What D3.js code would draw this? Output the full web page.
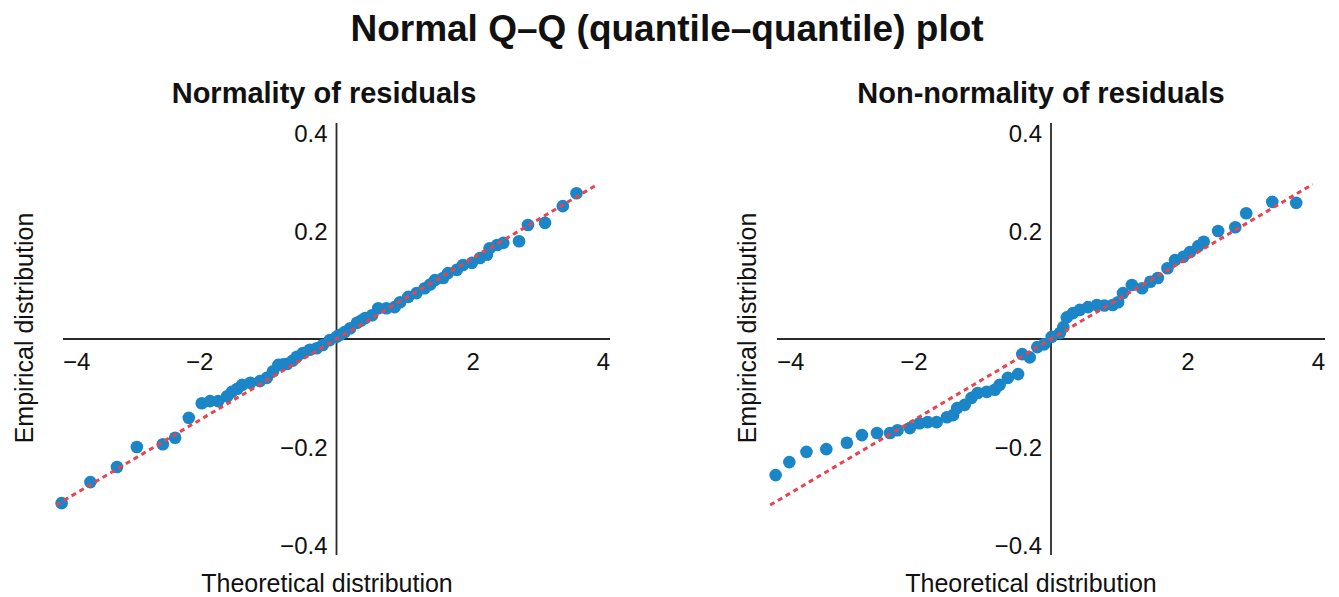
<!DOCTYPE html>
<html>
<head>
<meta charset="utf-8">
<script src="https://cdn.jsdelivr.net/npm/d3@7"></script>
<style>
  body { margin: 0; background: #fff; }
  text { font-family: "Liberation Sans", Arial, sans-serif; fill: #111; }
</style>
</head>
<body>
<div id="chart"></div>
<script>
const width = 1339,
    height = 597;

// tick labels (0 is not labelled)
const xTicks = [-4, -2, 2, 4];
const yTicks = [-0.4, -0.2, 0.2, 0.4];

// left panel: residuals that follow the normal line
const normTheo = [-4.02, -3.60, -3.21, -2.92, -2.54, -2.36, -2.16, -1.97, -1.85, -1.73,
    -1.60, -1.53, -1.45, -1.38, -1.26, -1.12, -1.02, -0.93, -0.85, -0.78, -0.72,
    -0.64, -0.58, -0.49, -0.39, -0.29, -0.20, -0.10, 0.00, 0.05, 0.12,
    0.20, 0.30, 0.36, 0.42, 0.52, 0.61, 0.73, 0.85, 0.93, 1.05, 1.17,
    1.29, 1.37, 1.44, 1.56, 1.63, 1.76, 1.85, 1.98, 2.10, 2.20,
    2.24, 2.35, 2.44, 2.67, 2.80, 3.05, 3.31, 3.51];
const normResid = [-0.304, -0.265, -0.237, -0.200, -0.195, -0.183, -0.146, -0.119, -0.115, -0.115,
    -0.106, -0.098, -0.092, -0.085, -0.081, -0.078, -0.072, -0.060, -0.048, -0.047, -0.046,
    -0.040, -0.033, -0.026, -0.020, -0.017, -0.011, -0.002, 0.004, 0.008, 0.013,
    0.020, 0.030, 0.034, 0.039, 0.044, 0.057, 0.057, 0.059, 0.068, 0.078, 0.085,
    0.094, 0.101, 0.109, 0.113, 0.122, 0.128, 0.137, 0.141, 0.150, 0.156,
    0.168, 0.174, 0.178, 0.181, 0.211, 0.215, 0.246, 0.270];

// right panel: residuals bending away from the line
const skewTheo = [-4.02, -3.82, -3.57, -3.28, -2.98, -2.76, -2.54, -2.35, -2.24, -2.06,
    -1.92, -1.80, -1.67, -1.52, -1.43, -1.37, -1.26, -1.16, -1.07, -0.94,
    -0.82, -0.75, -0.63, -0.48, -0.42, -0.31, -0.20, -0.10, 0.01, 0.13,
    0.18, 0.23, 0.32, 0.42, 0.54, 0.67, 0.78, 0.90, 0.98, 1.05,
    1.18, 1.33, 1.45, 1.56, 1.70, 1.81, 1.93, 2.03, 2.15, 2.23,
    2.44, 2.69, 2.85, 3.23, 3.58];
const skewResid = [-0.252, -0.228, -0.209, -0.204, -0.192, -0.178, -0.174, -0.174, -0.169, -0.165,
    -0.156, -0.154, -0.154, -0.145, -0.141, -0.128, -0.122, -0.109, -0.100, -0.098,
    -0.094, -0.085, -0.072, -0.065, -0.028, -0.034, -0.015, -0.010, 0.004, 0.011,
    0.022, 0.040, 0.048, 0.054, 0.059, 0.063, 0.062, 0.063, 0.068, 0.085,
    0.100, 0.094, 0.106, 0.113, 0.131, 0.146, 0.152, 0.161, 0.172, 0.180,
    0.200, 0.207, 0.233, 0.254, 0.252];

// reference line y = slope * x
const fitSlope = 0.075;
const fitRange = [-4.1, 3.82];

const panels = [
    {title: 'Normality of residuals', theo: normTheo, resid: normResid,
     x0: 63, x1: 610, titleX: 324, xLabelX: 327, yLabelX: 33},
    {title: 'Non-normality of residuals', theo: skewTheo, resid: skewResid,
     x0: 777, x1: 1325, titleX: 1041, xLabelX: 1031, yLabelX: 756}
];

const plotTop = 123, plotBottom = 555;
const dotColor = '#1a86c8',
    lineColor = '#e8434e',
    axisColor = '#2a2a2a';

const svg = d3.select('#chart').append('svg')
    .attr('width', width)
    .attr('height', height);

svg.append('text')
    .attr('x', 667)
    .attr('y', 41)
    .attr('text-anchor', 'middle')
    .style('font-size', '37px')
    .style('font-weight', 'bold')
    .text('Normal Q\u2013Q (quantile\u2013quantile) plot');

const fmt = d3.format('.1f');

panels.forEach(p => {
    let x = d3.scaleLinear().domain([-4, 4]).range([p.x0, p.x1]);
    let y = d3.scaleLinear().domain([-0.4, 0.4]).range([plotBottom, plotTop]);

    let g = svg.append('g');

    g.append('text')
        .attr('x', p.titleX)
        .attr('y', 103)
        .attr('text-anchor', 'middle')
        .style('font-size', '29px')
        .style('font-weight', 'bold')
        .text(p.title);

    // spines through the origin
    g.append('line')
        .attr('x1', p.x0).attr('x2', p.x1)
        .attr('y1', y(0)).attr('y2', y(0))
        .attr('stroke', axisColor).attr('stroke-width', 1.8);
    g.append('line')
        .attr('x1', x(0)).attr('x2', x(0))
        .attr('y1', plotTop).attr('y2', plotBottom)
        .attr('stroke', axisColor).attr('stroke-width', 1.8);

    // x tick labels, kept inside the spine ends
    g.selectAll('.xt')
        .data(xTicks)
        .enter().append('text')
        .attr('class', 'xt')
        .attr('y', y(0) + 31)
        .attr('text-anchor', 'middle')
        .style('font-size', '24px')
        .text(d => d3.format('d')(d))
        .attr('x', function(d) {
            let w = this.getComputedTextLength() / 2;
            return Math.max(p.x0 + w, Math.min(p.x1 - w, x(d)));
        });

    // y tick labels
    g.selectAll('.yt')
        .data(yTicks)
        .enter().append('text')
        .attr('class', 'yt')
        .attr('x', x(0) - 9)
        .attr('text-anchor', 'end')
        .attr('dy', '0.36em')
        .style('font-size', '24px')
        .text(d => fmt(d))
        .attr('y', d => Math.max(plotTop + 10, Math.min(plotBottom - 10, y(d))));

    // axis titles
    g.append('text')
        .attr('x', p.xLabelX)
        .attr('y', 592)
        .attr('text-anchor', 'middle')
        .style('font-size', '25px')
        .text('Theoretical distribution');

    g.append('text')
        .attr('transform', 'translate(' + p.yLabelX + ',' + 328 + ') rotate(-90)')
        .attr('text-anchor', 'middle')
        .style('font-size', '25px')
        .text('Empirical distribution');

    // points
    g.selectAll('circle')
        .data(p.theo)
        .enter().append('circle')
        .attr('cx', d => x(d))
        .attr('cy', (d, i) => y(p.resid[i]))
        .attr('r', 6.3)
        .attr('fill', dotColor);

    // dashed reference line
    g.append('line')
        .attr('x1', x(fitRange[0])).attr('y1', y(fitSlope * fitRange[0]))
        .attr('x2', x(fitRange[1])).attr('y2', y(fitSlope * fitRange[1]))
        .attr('stroke', lineColor)
        .attr('stroke-width', 3)
        .attr('stroke-dasharray', '5,4');
});
</script>
</body>
</html>
